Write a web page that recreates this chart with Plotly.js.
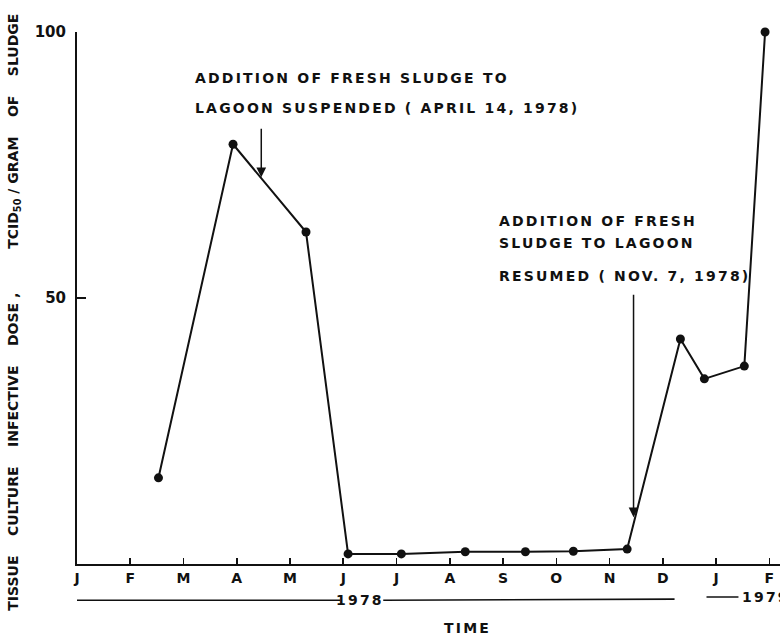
<!DOCTYPE html>
<html>
<head>
<meta charset="utf-8">
<script src="https://cdn.plot.ly/plotly-3.0.1.min.js"></script>
<style>
  html, body { margin: 0; padding: 0; background: #fff; }
  #chart { width: 780px; height: 636px; }
  .annotation-text { letter-spacing: 2.2px; }
  g.annotation[data-index="0"] .annotation-text { letter-spacing: 0px; }
</style>
</head>
<body>
<div id="chart"></div>
<script>
// Month index: 0 = January 1978, 12 = January 1979
const months = [1.53, 2.93, 4.30, 5.09, 6.09, 7.29, 8.42, 9.32, 10.33, 11.33, 11.78, 12.53, 12.92];
const tcid50 = [16.2, 78.9, 62.4, 1.9, 1.9, 2.3, 2.3, 2.4, 2.8, 42.3, 34.8, 37.2, 100];

const tickMonths = [0, 1, 2, 3, 4, 5, 6, 7, 8, 9, 10, 11, 12, 13];
const tickLabels = ['J', 'F', 'M', 'A', 'M', 'J', 'J', 'A', 'S', 'O', 'N', 'D', 'J', 'F'];
const yTicks = [50, 100];

const FONT = 'DejaVu Sans';
const ink = '#111';
const sp = n => '\u00A0'.repeat(n);
const yTitle = 'TISSUE' + sp(4) + 'CULTURE' + sp(4) + 'INFECTIVE' + sp(4) + 'DOSE' + sp(1) + ',' + sp(9) +
               'TCID<sub>50</sub>' + sp(1) + '/' + sp(1) + 'GRAM' + sp(4) + 'OF' + sp(4) + 'SLUDGE';

const trace = {
  x: months, y: tcid50, type: 'scatter', mode: 'lines+markers',
  line: { color: ink, width: 2 },
  marker: { color: ink, size: 9 },
  cliponaxis: false, hoverinfo: 'skip'
};

function label(text, x, y) {
  return { text: text, x: x, y: y, xref: 'x', yref: 'y', xanchor: 'left', yanchor: 'middle',
           showarrow: false, font: { family: FONT, size: 14, color: ink, weight: 'bold' } };
}

const layout = {
  width: 780, height: 636,
  margin: { l: 77, r: 0, t: 32, b: 72 },
  paper_bgcolor: '#fff', plot_bgcolor: '#fff',
  showlegend: false,
  xaxis: {
    range: [0, 13.2], tickvals: tickMonths, ticktext: tickLabels,
    ticks: 'inside', ticklen: 6, tickwidth: 1.6, tickcolor: ink,
    showline: true, linecolor: ink, linewidth: 2, showgrid: false, zeroline: false,
    tickfont: { family: FONT, size: 14, color: ink, weight: 'bold' },
    fixedrange: true
  },
  yaxis: {
    range: [0, 100], tickvals: yTicks, ticktext: yTicks.map(String),
    ticks: 'inside', ticklen: 9, tickwidth: 1.8, tickcolor: ink, ticklabelstandoff: 6,
    showline: true, linecolor: ink, linewidth: 2, showgrid: false, zeroline: false,
    tickfont: { family: FONT, size: 15, color: ink, weight: 'bold' },
    fixedrange: true
  },
  shapes: [
    { type: 'line', xref: 'x', yref: 'paper', x0: -0.07, x1: 4.94, y0: -0.068, y1: -0.068, line: { color: ink, width: 1.6 } },
    { type: 'line', xref: 'x', yref: 'paper', x0: 5.75, x1: 11.22, y0: -0.068, y1: -0.066, line: { color: ink, width: 1.6 } },
    { type: 'line', xref: 'x', yref: 'paper', x0: 11.82, x1: 12.42, y0: -0.062, y1: -0.062, line: { color: ink, width: 1.6 } }
  ],
  annotations: [
    { text: yTitle, x: -0.09, y: 0.474, xref: 'paper', yref: 'paper', textangle: -90, showarrow: false,
      xanchor: 'center', yanchor: 'middle', font: { family: FONT, size: 14, color: ink, weight: 'bold' } },
    label('ADDITION OF FRESH SLUDGE TO', 2.18, 91.4),
    label('LAGOON SUSPENDED ( APRIL 14, 1978)', 2.18, 85.7),
    label('ADDITION OF FRESH', 7.89, 64.5),
    label('SLUDGE TO LAGOON', 7.89, 60.3),
    label('RESUMED ( NOV. 7, 1978)', 7.89, 54.1),
    { x: 3.46, y: 72.7, ax: 3.46, ay: 82.1, xref: 'x', yref: 'y', axref: 'x', ayref: 'y', text: '',
      showarrow: true, arrowhead: 2, arrowsize: 1.3, arrowwidth: 1.5, arrowcolor: ink },
    { x: 10.45, y: 8.8, ax: 10.45, ay: 50.9, xref: 'x', yref: 'y', axref: 'x', ayref: 'y', text: '',
      showarrow: true, arrowhead: 2, arrowsize: 1.3, arrowwidth: 1.5, arrowcolor: ink },
    { text: '1978', x: 5.32, y: -0.068, xref: 'x', yref: 'paper', showarrow: false, xanchor: 'center', yanchor: 'middle',
      font: { family: FONT, size: 14, color: ink, weight: 'bold' } },
    { text: '1979', x: 12.45, y: -0.062, xref: 'x', yref: 'paper', showarrow: false, xanchor: 'left', yanchor: 'middle',
      font: { family: FONT, size: 14, color: ink, weight: 'bold' } },
    { text: 'TIME', x: 7.33, y: -0.12, xref: 'x', yref: 'paper', showarrow: false, xanchor: 'center', yanchor: 'middle',
      font: { family: FONT, size: 14, color: ink, weight: 'bold' } }
  ]
};

Plotly.newPlot('chart', [trace], layout, { staticPlot: true, displayModeBar: false });
</script>
</body>
</html>
